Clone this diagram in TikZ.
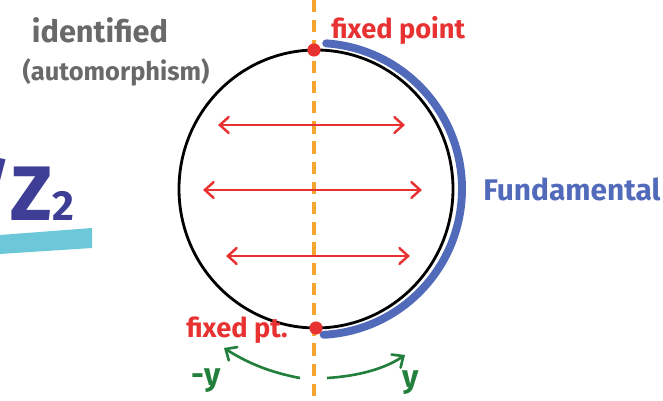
\documentclass[tikz,border=0pt]{standalone}
\usepackage{fontspec}
\setmainfont{Fira Sans}
\usetikzlibrary{arrows.meta}
\definecolor{fixred}{RGB}{232,50,50}
\definecolor{fundblue}{RGB}{82,106,186}
\definecolor{axisorange}{RGB}{245,165,45}
\definecolor{notegray}{RGB}{105,105,105}
\definecolor{flipgreen}{RGB}{35,128,60}
\definecolor{quotblue}{RGB}{62,62,150}
\definecolor{barcyan}{RGB}{108,200,216}
\tikzset{
  fixdot/.style={circle, fill=fixred, inner sep=0pt, minimum size=7.5pt},
  swap/.style={<->, fixred, line width=1.4pt},
  flip/.style={->, flipgreen, line width=1.5pt},
}
\begin{document}
\begin{tikzpicture}[x=0.02cm, y=-0.02cm, >={Straight Barb[length=5pt,width=9pt,line cap=round]}]
    \useasboundingbox (0,0) rectangle (663,401);
    \clip (0,0) rectangle (663,401);

    % Quotient by Z_2
    \fill[barcyan] (0,235) -- (92,228) -- (92,248) -- (0,254) -- cycle;
    \node[quotblue, anchor=base west, inner sep=0pt, font=\bfseries\fontsize{44}{48}\selectfont] (quot) at (-29,221) {/Z{\fontsize{24}{26}\selectfont 2}};

    % Notes
    \node[notegray, font=\bfseries\fontsize{17.5}{20}\selectfont] (ident) at (100,30) {identified};
    \node[notegray, font=\bfseries\fontsize{14.5}{17}\selectfont] (auto) at (116,72) {(automorphism)};

    % Symmetry axis and circle
    \coordinate (O) at (316,189);
    \draw[axisorange, line width=2pt, dash pattern=on 7pt off 4.5pt] (314,0) -- (314,401);
    \draw[line width=1.6pt] (O) ellipse (137 and 139);

    % Fundamental domain
    \draw[fundblue, line width=4.5pt, line cap=round] ([shift={(-86:146)}]O) arc[start angle=-86, end angle=87, radius=146];
    \node[fundblue, anchor=west, inner sep=0pt, font=\bfseries\fontsize{17}{20}\selectfont] (fund) at (483,189) {Fundamental};

    % Fixed points
    \node[fixdot] (top) at (314,50) {};
    \node[fixdot] (bot) at (316,328) {};
    \node[fixred, anchor=west, inner sep=0pt, font=\bfseries\fontsize{15.5}{20}\selectfont] (topl) at (331,30) {fixed point};
    \node[fixred, anchor=east, inner sep=0pt, font=\bfseries\fontsize{15.5}{20}\selectfont] (botl) at (288,330) {fixed pt.};

    % Identification arrows
    \foreach \y/\l/\r in {125/218/405, 190/203/422, 256/226/410}
        \draw[swap] (\l,\y) -- (\r,\y);

    % Flip y -> -y
    \node[flipgreen, font=\bfseries\fontsize{18}{22}\selectfont] (negy) at (206,381) {-y};
    \node[flipgreen, font=\bfseries\fontsize{18}{22}\selectfont] (posy) at (411,383) {y};
    \coordinate (gl) at (300,378);
    \coordinate (gr) at (327,378);
    \draw[flip] (gl) .. controls (268,372) and (246,362) .. (224,348);
    \draw[flip] (gr) .. controls (360,376) and (386,368) .. (405,355);
\end{tikzpicture}
\end{document}
